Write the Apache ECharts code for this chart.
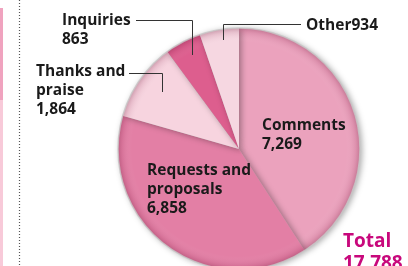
<!DOCTYPE html>
<html><head><meta charset="utf-8">
<script src="https://cdn.jsdelivr.net/npm/echarts@6/dist/echarts.min.js"></script>
<style>html,body{margin:0;padding:0;background:#fff}#c{width:408px;height:266px}</style>
</head><body><div id="c"></div>
<script>
var categories = ["Comments", "Requests and proposals", "Thanks and praise", "Inquiries", "Other"];
var labelNames = ["Comments", "Requests and\nproposals", "Thanks and\npraise", "Inquiries", "Other"];
var values = [7269, 6858, 1864, 863, 934];
var colors = ["#eba2bd", "#e37fa5", "#f7d4df", "#dd5e8e", "#f6d7e1"];
var totalLabel = "Total";

var CX = 239, CY = 149, R = 121;
var total = values.reduce(function(a,b){return a+b;},0);
function fmt(n){return n.toString().replace(/\B(?=(\d{3})+(?!\d))/g, ",");}

var labelPos = [
  {x: 262, y: 116},
  {x: 147, y: 161},
  {x: 36, y: 62},
  {x: 62, y: 11},
  {x: 306, y: 16}
];

var chart = echarts.init(document.getElementById('c'), null, {renderer: 'canvas'});
var font = '"Open Sans", "Noto Sans", sans-serif';
chart.setOption({
  animation: false,
  series: [{
    type: 'pie',
    center: [CX, CY],
    radius: [0, R],
    startAngle: 90,
    clockwise: true,
    silent: true,
    itemStyle: {shadowBlur: 6, shadowColor: 'rgba(0,0,0,0.35)', shadowOffsetX: 2, shadowOffsetY: 1},
    label: {
      show: true,
      position: 'inside',
      color: '#1a1a1a',
      fontFamily: font,
      fontWeight: 'bold',
      fontSize: 15.5,
      lineHeight: 19,
      formatter: function(p){
        var i = p.dataIndex;
        return labelNames[i] + (categories[i] === 'Other' ? '' : '\n') + fmt(values[i]);
      }
    },
    labelLine: {show: false},
    labelLayout: function(p){
      var lp = labelPos[p.dataIndex];
      return {x: lp.x, y: lp.y, align: 'left', verticalAlign: 'top'};
    },
    data: values.map(function(v,i){return {name: categories[i], value: v, itemStyle: {color: colors[i]}};})
  }],
  graphic: [
    {type: 'rect', shape: {x: 0, y: 8, width: 3, height: 92}, style: {fill: '#f0a3bf'}},
    {type: 'rect', shape: {x: 0, y: 100, width: 3, height: 166}, style: {fill: '#f8cad9'}},
    {type: 'line', shape: {x1: 19.5, y1: 0, x2: 19.5, y2: 266}, style: {stroke: '#555', lineWidth: 1.2, lineDash: [1, 2]}},
    {type: 'circle', silent: true, z: 10, shape: {cx: CX, cy: CY, r: R},
      style: {fill: new echarts.graphic.RadialGradient(0.5, 0.5, 0.5, [
        {offset: 0, color: 'rgba(255,255,255,0)'},
        {offset: 0.88, color: 'rgba(255,255,255,0)'},
        {offset: 0.96, color: 'rgba(120,20,60,0.12)'},
        {offset: 1, color: 'rgba(90,10,40,0.3)'}
      ]), stroke: 'rgba(200,200,200,0.8)', lineWidth: 1.5}},
    {type: 'polyline', z: 20, shape: {points: [[136, 20.5], [192.5, 20.5], [192.5, 55]]}, style: {stroke: '#333', lineWidth: 1, fill: null}},
    {type: 'polyline', z: 20, shape: {points: [[129, 73.5], [162.5, 73.5], [162.5, 92]]}, style: {stroke: '#333', lineWidth: 1, fill: null}},
    {type: 'polyline', z: 20, shape: {points: [[301, 24.5], [223.5, 24.5], [223.5, 40]]}, style: {stroke: '#333', lineWidth: 1, fill: null}},
    {type: 'text', z: 20, left: 343, top: 231, style: {text: totalLabel + '\n' + fmt(total), fill: '#c8087c', font: 'bold 19px ' + font, lineHeight: 22}}
  ]
});
</script></body></html>
